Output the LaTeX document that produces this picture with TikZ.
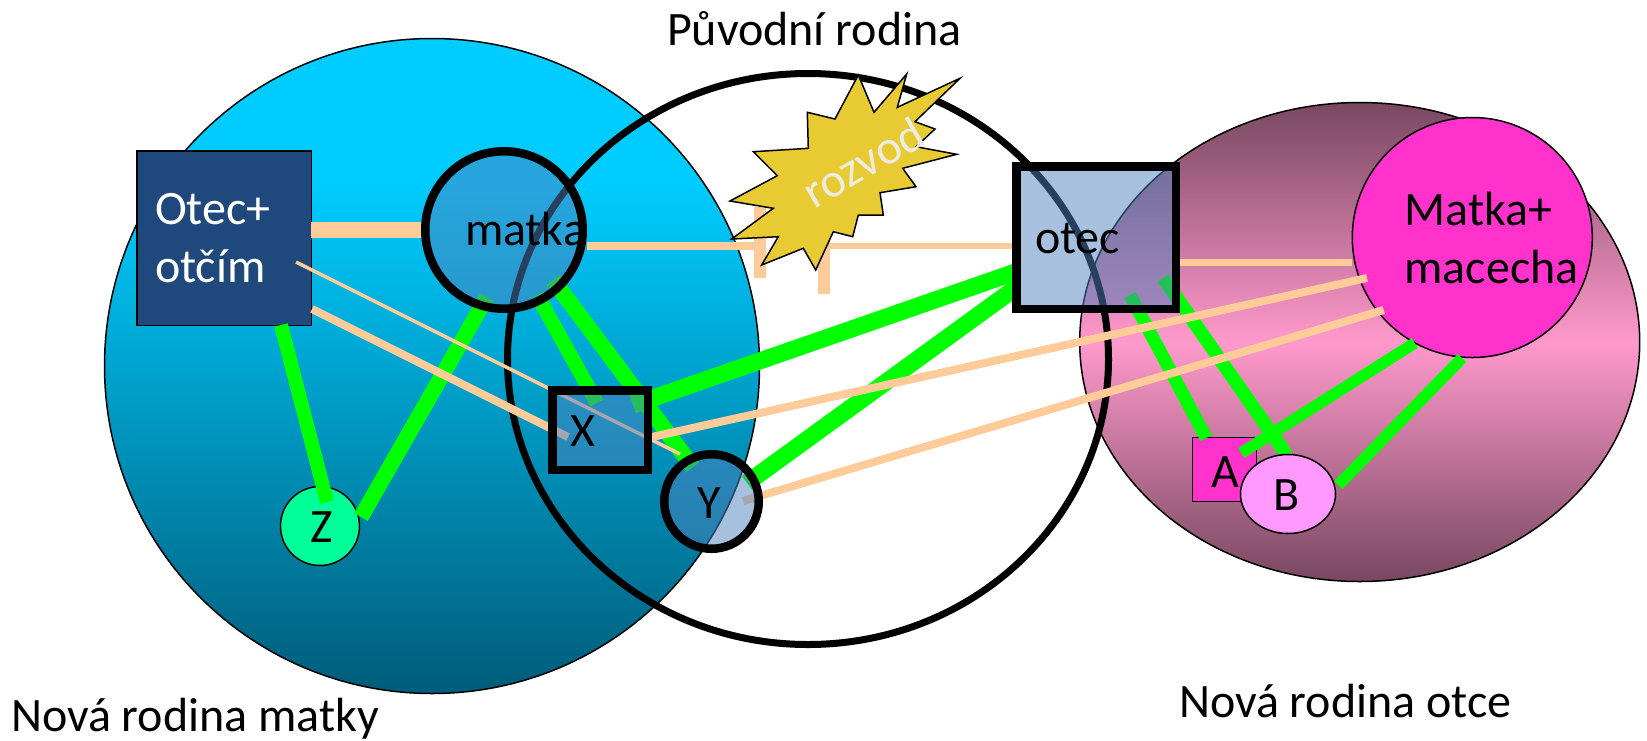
\documentclass[tikz,border=0pt]{standalone}
\usepackage{fontspec}
\setmainfont{Carlito}
\usetikzlibrary{positioning}
\usetikzlibrary{shapes.geometric}
\pgfdeclarelayer{pozadi}
\pgfdeclarelayer{draty}
\pgfsetlayers{pozadi,draty,main}
\definecolor{zelena}{HTML}{00FF00}
\definecolor{broskev}{HTML}{FFCC99}
\definecolor{pruhledna}{HTML}{4F81BD}
\definecolor{azur}{HTML}{00CCFF}
\definecolor{hlubina}{HTML}{005C7A}
\definecolor{ruzova}{HTML}{FF99CC}
\definecolor{svestka}{HTML}{784860}
\definecolor{fuchsie}{HTML}{FF33CC}
\pgfdeclareverticalshading{modrakoule}{100bp}{color(0bp)=(hlubina); color(25bp)=(hlubina); color(64bp)=(azur); color(100bp)=(azur)}
\tikzset{
        popis/.style={inner sep=0pt, outer sep=0pt, font=\fontsize{48}{58}\selectfont, align=left},
        tenky/.style={draw=black, line width=1.5pt, inner sep=0pt, outer sep=0pt},
        osoba/.style={draw=black, line width=8.5pt, fill=pruhledna, fill opacity=0.5, draw opacity=1, inner sep=0pt, outer sep=0pt},
        vazba/.style={draw=zelena, line width=#1},
        vazba/.default=17pt,
        pouto/.style={draw=broskev, line width=#1},
        pouto/.default=8pt,
}
\begin{document}
\begin{tikzpicture}[x=1pt, y=-1pt]
      \useasboundingbox (0,0) rectangle (1647,740);
      % RODINY
      \begin{pgfonlayer}{pozadi}
        \node[tenky, circle, minimum size=655pt, shading=modrakoule] (novamatky) at (432,366) {};
        \node[tenky, ellipse, minimum width=560pt, minimum height=479pt, top color=svestka, bottom color=svestka, middle color=ruzova] (novaotce) at (1359.7,342) {};
        \node[draw=black, line width=7pt, ellipse, inner sep=0pt, minimum width=601pt, minimum height=571pt] (puvodni) at (808,359) {};
        \node[tenky, circle, minimum size=240pt, fill=fuchsie] (macecha) at (1472.3,237.5) {};
        \node[tenky, minimum size=174.5pt, fill={rgb,255:red,31;green,73;blue,125}] (otcim) at (224,238) {};
        \node[tenky, minimum size=64pt, fill=fuchsie] (a) at (1224.3,469.5) {};
        \node[tenky, circle, minimum size=79pt, fill={rgb,255:red,0;green,255;blue,153}] (z) at (320,526) {};
      \end{pgfonlayer}

      % OSOBY
      \node[osoba, circle, minimum size=157.5pt] (matka) at (504,230) {};
      \node[osoba, minimum width=159.5pt, minimum height=142.5pt] (otec) at (1096,237.5) {};
      \node[osoba, minimum width=95.5pt, minimum height=79.5pt] (x) at (600,430) {};
      \node[osoba, circle, minimum size=94.5pt] (y) at (711.5,501.5) {};
      \node[tenky, ellipse, minimum width=95pt, minimum height=79pt, fill={rgb,255:red,255;green,153;blue,255}] (b) at (1288,494) {};

      % ZLOM
      \coordinate (zlom1) at (760,246);
      \coordinate (zlom2) at (824,246);
      \coordinate (zlom1a) at (760,207);
      \coordinate (zlom1b) at (760,278);
      \coordinate (zlom2a) at (824,240);
      \coordinate (zlom2b) at (824,294);
      \coordinate (otecvpravo) at ([shift={(84,24.5)}]otec.center);

      % SPOJE
      \begin{pgfonlayer}{draty}
        % deti
        \draw[vazba=14pt] ([shift={(57,87)}]otcim.center) -- ([shift={(7,-24)}]z.center);
        \draw[vazba=15.5pt] ([shift={(41,-9)}]z.center) -- ([shift={(-17,67)}]matka.center);
        \draw[vazba=14.5pt] ([shift={(33,65)}]matka.center) -- ([shift={(-3,-27)}]x.center);
        \draw[vazba=16pt] ([shift={(49,50)}]matka.center) -- ([shift={(-18.5,-34.5)}]y.center);
        \draw[vazba] ([shift={(-80.5,34.5)}]otec.center) -- ([shift={(33,-25)}]x.center);
        \draw[vazba] ([shift={(-80.5,50.5)}]otec.center) -- ([shift={(35.5,-18.5)}]y.center);
        \draw[vazba=13pt] ([shift={(34,57.5)}]otec.center) -- ([shift={(-18,-31.5)}]a.center);
        \draw[vazba=13.5pt] ([shift={(67,40.5)}]otec.center) -- ([shift={(-1.2,-39)}]b.center);
        \draw[vazba=11.5pt] ([shift={(-57.6,105.5)}]macecha.center) -- ([shift={(17,-16.5)}]a.center);
        \draw[vazba=11.5pt] ([shift={(-10.3,120.5)}]macecha.center) -- ([shift={(50.4,-9)}]b.center);
        % partneri
        \draw[pouto=16pt] (otcim.east |- matka.west) -- (matka.west);
        \draw[pouto=3.5pt] ([shift={(72,24)}]otcim.center) -- ([shift={(-31.5,-47.5)}]y.center);
        \draw[pouto] ([shift={(88,71)}]otcim.center) -- ([shift={(-32,7)}]x.center);
        \draw[pouto] ([shift={(52,7)}]x.center) -- ([shift={(-105.3,40.5)}]macecha.center);
        \draw[pouto] ([shift={(31.5,-0.5)}]y.center) -- ([shift={(-88.6,72.5)}]macecha.center);
        \draw[pouto=7pt] (otecvpravo) -- (macecha.west |- otecvpravo);
        % rozvod
        \draw[pouto=8pt] ([shift={(83,16)}]matka.center) -- (zlom1);
        \draw[pouto=6pt] (zlom2) -- (otec.west |- zlom2);
        \draw[pouto=12pt] (zlom1a) -- (zlom1b);
        \draw[pouto=12pt] (zlom2a) -- (zlom2b);
      \end{pgfonlayer}

      % VYBUCH
      \draw[line width=1.5pt, fill={rgb,255:red,232;green,202;blue,50}] (858.3,75) -- (874,112.3) -- (906.7,74) -- (897.3,107.3) -- (960,78.3) -- (915,121.7) -- (935,129) -- (916,146.7) -- (956.7,154.3) -- (902.7,168.3) -- (916,186.7) -- (880,192.7) -- (883.3,215) -- (858.3,215) -- (852.7,236.7) -- (833.3,231.7) -- (815.7,270) -- (803.3,248.3) -- (761.7,265) -- (778.3,236.7) -- (731.7,239) -- (773.3,208.3) -- (730,201) -- (777.3,175.7) -- (753.3,151.7) -- (808.3,148.3) -- (807.3,112.3) -- (835,119) -- cycle;
      \node[popis, rotate=30, text={rgb,255:red,238;green,236;blue,225}] (rozvod) at (863,162) {rozvod};

      % POPISY
      \node[popis, anchor=west, text=white] (otcimtext) at (155,238) {Otec+\\otčím};
      \node[popis, anchor=base west] (matkatext) at (465,245) {matka};
      \node[popis, anchor=base west] (otectext) at (1035,253) {otec};
      \node[popis, anchor=west] (macechatext) at (1404.5,238) {Matka+\\macecha};
      \node[popis] (xtext) at (583,431) {X};
      \node[popis] (ytext) at (709,503) {Y};
      \node[popis] (ztext) at (322,527) {Z};
      \node[popis] (atext) at (1225,472) {A};
      \node[popis] (btext) at (1287,495) {B};
      \node[popis, anchor=base west] (puvodnitext) at (667,45) {Původní rodina};
      \node[popis, anchor=base west] (novamatkytext) at (11,731.7) {Nová rodina matky};
      \node[popis, anchor=base west] (novaotcetext) at (1179,717) {Nová rodina otce};
\end{tikzpicture}
\end{document}
